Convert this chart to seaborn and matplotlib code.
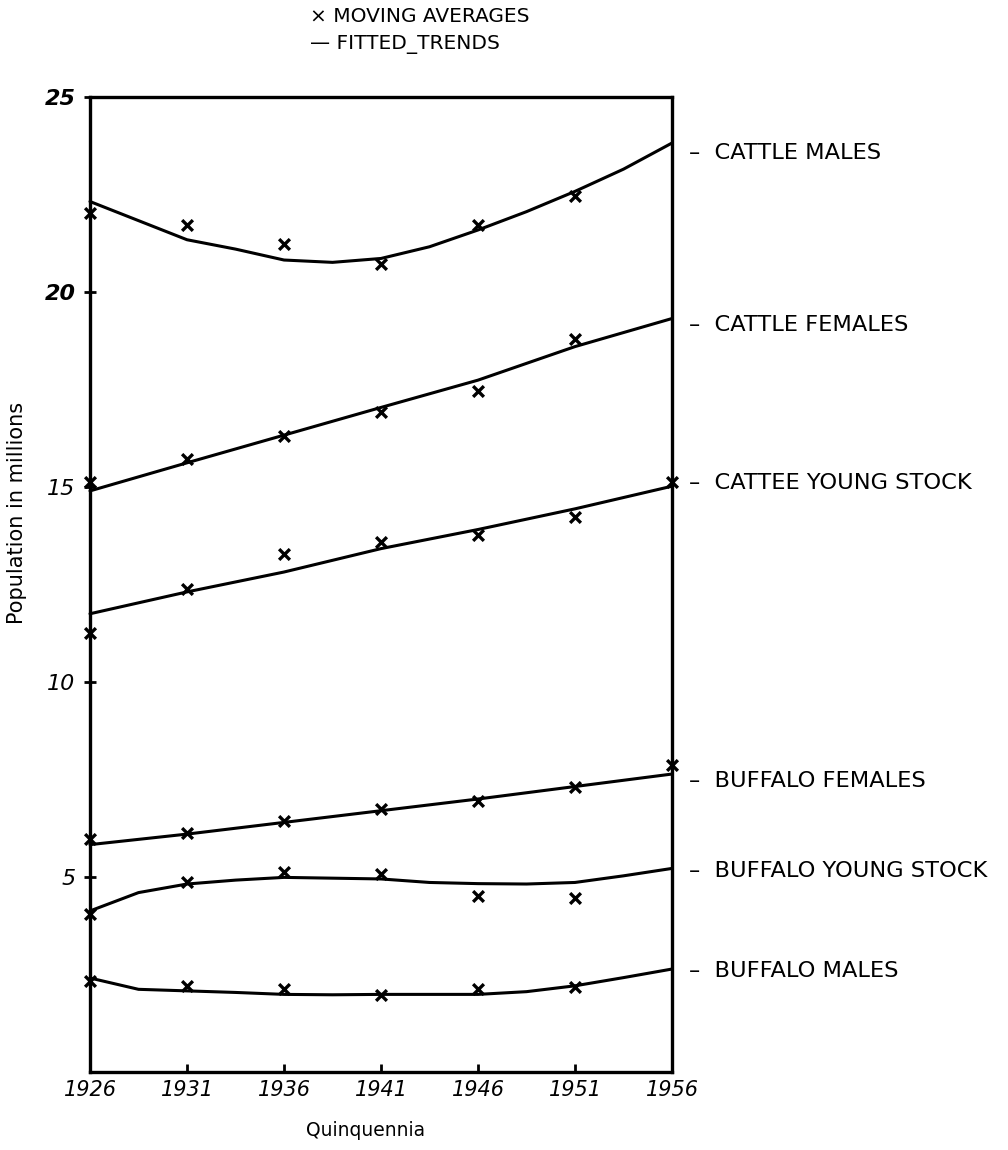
import numpy as np
import pandas as pd
import matplotlib
matplotlib.use("Agg")
import matplotlib.pyplot as plt
import matplotlib.transforms as mtransforms
import seaborn as sns

# ---------------- data ----------------
quinquennia = [1926, 1931, 1936, 1941, 1946, 1951, 1956]
half_steps = [1926, 1928.5, 1931, 1933.5, 1936, 1938.5, 1941,
              1943.5, 1946, 1948.5, 1951, 1953.5, 1956]

series_names = ["CATTLE MALES", "CATTLE FEMALES", "CATTEE YOUNG STOCK",
                "BUFFALO FEMALES", "BUFFALO YOUNG STOCK", "BUFFALO MALES"]

nan = np.nan
# moving averages (crosses), at quinquennia
ma_cattle_males = [22.02, 21.72, 21.23, 20.71, 21.72, 22.46, nan]
ma_cattle_females = [15.13, 15.73, 16.30, 16.93, 17.47, 18.79, nan]
ma_cattle_young = [11.25, 12.39, 13.29, 13.59, 13.78, 14.23, 15.13]
ma_buffalo_females = [5.97, 6.14, 6.43, 6.74, 6.96, 7.30, 7.86]
ma_buffalo_young = [4.05, 4.86, 5.12, 5.08, 4.52, 4.47, nan]
ma_buffalo_males = [2.34, 2.21, 2.12, 1.98, 2.12, 2.17, nan]

# fitted trends (lines)
trend_cattle_males = [22.32, 21.83, 21.34, 21.10, 20.82, 20.76, 20.86,
                      21.16, 21.59, 22.06, 22.58, 23.15, 23.82]      # half_steps
trend_cattle_females = [14.90, 15.62, 16.33, 17.04, 17.74, 18.60, 19.32]  # quinquennia
trend_cattle_young = [11.75, 12.31, 12.82, 13.42, 13.91, 14.44, 15.02]    # quinquennia
trend_buffalo_females = [5.83, 6.10, 6.40, 6.70, 7.00, 7.32, 7.64]        # quinquennia
trend_buffalo_young = [4.13, 4.60, 4.82, 4.92, 4.99, 4.97, 4.95,
                       4.86, 4.83, 4.82, 4.86, 5.03, 5.22]            # half_steps
trend_buffalo_males = [2.41, 2.12, 2.08, 2.04, 1.99, 1.98, 1.99,
                       1.99, 1.99, 2.06, 2.21, 2.42, 2.64]            # half_steps

label_y = [23.57, 19.15, 15.10, 7.47, 5.16, 2.59]

y_ticks = [5, 10, 15, 20, 25]

# ---------------- tables ----------------
ma_lists = [ma_cattle_males, ma_cattle_females, ma_cattle_young,
            ma_buffalo_females, ma_buffalo_young, ma_buffalo_males]
trend_lists = [(half_steps, trend_cattle_males),
               (quinquennia, trend_cattle_females),
               (quinquennia, trend_cattle_young),
               (quinquennia, trend_buffalo_females),
               (half_steps, trend_buffalo_young),
               (half_steps, trend_buffalo_males)]

ma_rows = []
for name, vals in zip(series_names, ma_lists):
    for yr, v in zip(quinquennia, vals):
        if not np.isnan(v):
            ma_rows.append({"series": name, "year": yr, "value": v})
df_ma = pd.DataFrame(ma_rows)

tr_rows = []
for name, (xs, vals) in zip(series_names, trend_lists):
    for yr, v in zip(xs, vals):
        tr_rows.append({"series": name, "year": yr, "value": v})
df_tr = pd.DataFrame(tr_rows)

# ---------------- plot ----------------
sns.set_style("ticks")
plt.rcParams["font.family"] = ["DejaVu Sans"]
plt.rcParams["text.color"] = "black"
plt.rcParams["axes.labelcolor"] = "black"
plt.rcParams["xtick.color"] = "black"
plt.rcParams["ytick.color"] = "black"

fig = plt.figure(figsize=(10.08, 11.5), dpi=100)
ax = fig.add_axes([90 / 1008, 1 - 1072 / 1150, (672 - 90) / 1008, (1072 - 97) / 1150])

sns.lineplot(data=df_tr, x="year", y="value", units="series", estimator=None,
             color="black", linewidth=2.2, ax=ax, sort=True, legend=False)
sns.scatterplot(data=df_ma, x="year", y="value", marker="x", color="black",
                s=60, linewidth=2.4, ax=ax, legend=False, zorder=5)
for coll in ax.collections:
    coll.set_clip_on(False)
for ln in ax.lines:
    ln.set_clip_on(False)

ax.set_xlim(1926, 1956)
ax.set_ylim(0, 25)
ax.set_xticks(quinquennia)
ax.set_xticklabels([str(q) for q in quinquennia], fontsize=15, style="italic")
ax.set_yticks(y_ticks)
ax.set_yticklabels([str(t) for t in y_ticks], fontsize=16, style="italic")
for lab, t in zip(ax.get_yticklabels(), y_ticks):
    if t >= 20:
        lab.set_fontweight("bold")
ax.tick_params(axis="y", direction="inout", length=9, width=2, pad=6)
ax.tick_params(axis="x", direction="in", length=6, width=2, pad=6)

for sp in ax.spines.values():
    sp.set_visible(True)
    sp.set_linewidth(2.4)
    sp.set_color("black")

ax.set_xlabel("Quinquennia", fontsize=13.5)
ax.xaxis.set_label_coords((366 - 90) / 582, (1072 - 1121) / 975)
ax.set_ylabel("Population in millions", fontsize=15)
ax.yaxis.set_label_coords((27 - 90) / 582, (1072 - 513) / 975)

# right-hand series labels
trans = mtransforms.blended_transform_factory(ax.transAxes, ax.transData)
for name, yv in zip(series_names, label_y):
    ax.text(1.03, yv, "\u2013  " + name, transform=trans, fontsize=16.2,
            va="center", ha="left", clip_on=False)

# key at top
fig.text(310 / 1008, 1 - 17 / 1150, "\u00d7 MOVING AVERAGES", fontsize=14.5,
         va="center", ha="left")
fig.text(310 / 1008, 1 - 44 / 1150, "\u2014 FITTED_TRENDS", fontsize=14.5,
         va="center", ha="left")

fig.savefig("out.png", dpi=100, facecolor="white")
